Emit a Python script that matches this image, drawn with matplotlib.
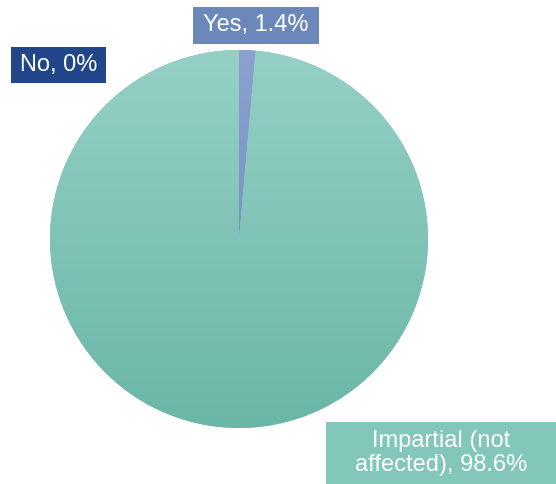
import numpy as np
import matplotlib.pyplot as plt
from matplotlib.colors import LinearSegmentedColormap
from matplotlib.patches import Rectangle

plt.rcParams['font.family'] = ['Liberation Sans', 'DejaVu Sans']

labels = ["Yes", "No", "Impartial (not\naffected)"]
values = [1.4, 0.0, 98.6]
slice_colors = ["#7b93c3", "#1f4288", "#7fc5b8"]
box_colors = ["#6c88bb", "#214689", "#83c7ba"]

fig = plt.figure(figsize=(5.56, 4.84), dpi=100)
ax = fig.add_axes([0, 0, 1, 1])

cx, cy, r = 239, 245, 189
wedges, _ = ax.pie(values, colors=slice_colors, startangle=90, counterclock=False,
                   center=(cx, cy), radius=r, frame=True,
                   wedgeprops=dict(linewidth=0))
ax.set_xlim(0, 556)
ax.set_ylim(0, 484)
ax.set_aspect("equal")
ax.axis("off")

# vertical shading on the slices, lighter at the top
grad = np.linspace(0, 1, 256).reshape(-1, 1)
shades = [
    LinearSegmentedColormap.from_list("yes", ["#8aa2cf", "#6a84b8"]),
    None,
    LinearSegmentedColormap.from_list("imp", ["#95d0c5", "#6ab7a7"]),
]
for w, cm, v in zip(wedges, shades, values):
    if cm is None or v == 0:
        continue
    im = ax.imshow(grad, cmap=cm, extent=(cx - r, cx + r, cy - r, cy + r),
                   origin="upper", aspect="auto", zorder=w.get_zorder() + 0.1)
    im.set_clip_path(w)

# label boxes (x0, y0, width, height) and text centres
label_boxes = [(193, 440, 126, 37), (11, 401, 95, 36), (326, -2, 232, 64)]
text_pos = [(256, 458.5), (58.5, 419), (441, 31)]
for lab, v, col, (x0, y0, bw, bh), (tx, ty) in zip(labels, values, box_colors,
                                                   label_boxes, text_pos):
    ax.add_patch(Rectangle((x0, y0), bw, bh, fc=col, ec="none", zorder=5,
                           clip_on=False))
    ax.text(tx, ty, f"{lab}, {v:g}%", ha="center", va="center", color="white",
            fontsize=17, linespacing=1.15, zorder=6)

fig.savefig("out.png", dpi=100)
